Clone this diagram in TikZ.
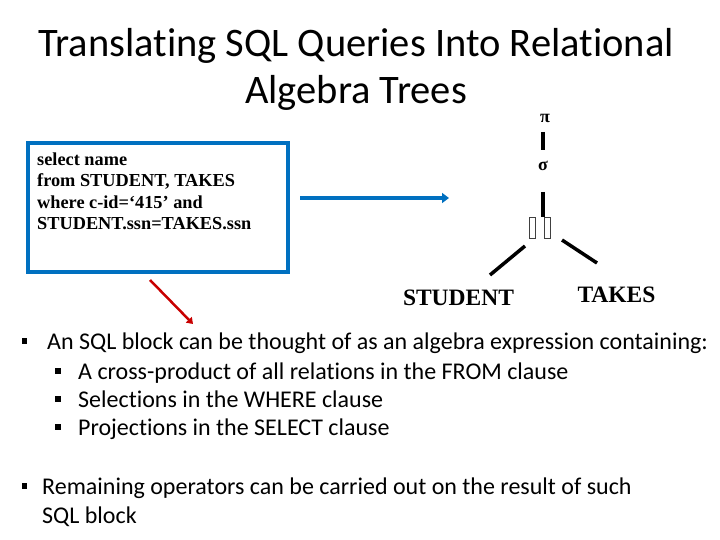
\documentclass[tikz,border=0pt]{standalone}
\usepackage{fontspec}
\setmainfont{Carlito}[Ligatures=NoCommon]
\newfontfamily\tnr{Liberation Serif}
\usetikzlibrary{arrows.meta}
\definecolor{boxblue}{RGB}{0,112,192}
\definecolor{arrred}{RGB}{200,0,0}
\tikzset{
  txt/.style={inner sep=0pt, anchor=base west, font=\fontsize{24}{29}\selectfont},
  bul/.style={fill=black, inner sep=0pt, minimum size=5.5pt, anchor=center},
  sqltxt/.style={inner sep=0pt, anchor=west, font=\tnr\bfseries\fontsize{18.3}{21}\selectfont},
  treeline/.style={line width=3.5pt},
  rel/.style={inner sep=0pt, font=\tnr\bfseries\fontsize{23.5}{26}\selectfont},
  op/.style={inner sep=0pt, font=\tnr\bfseries\fontsize{18}{20}\selectfont},
  emptybox/.style={draw=black!75, line width=0.9pt, fill=white, minimum width=6pt, minimum height=21pt, inner sep=0pt}
}
\begin{document}
\begin{tikzpicture}[x=1pt,y=-1pt]
\useasboundingbox (0,0) rectangle (720,540);
% title
\node[inner sep=0pt, align=center, font=\fontsize{40.5}{47}\selectfont] (title) at (356,69)
  {Translating SQL Queries Into Relational\\Algebra Trees};
% SQL box
\node[draw=boxblue, line width=3.5pt, minimum width=260pt, minimum height=129pt, inner sep=0pt] (box) at (158,207.5) {};
\node[sqltxt] (l1) at (37,159) {select name};
\node[sqltxt] (l2) at (37,181) {from STUDENT, TAKES};
\node[sqltxt] (l3) at (37,202) {where c-id=‘415’ and};
\node[sqltxt] (l4) at (37,224) {STUDENT.ssn=TAKES.ssn};
% arrows
\coordinate (bs) at (300,198);
\coordinate (be) at (449,198);
\draw[boxblue, line width=4pt, -{Triangle[length=7pt,width=10pt]}] (bs) -- (be);
\coordinate (rs) at (150,280);
\coordinate (re) at (193,324);
\draw[arrred, line width=2.5pt, -{Triangle[length=6pt,width=8pt]}] (rs) -- (re);
% tree
\node[op] (pi) at (545,118) {π};
\node[op] (sigma) at (543,166) {σ};
\node[emptybox] (x1) at (532,227.5) {};
\node[emptybox] (x2) at (547,227.5) {};
\coordinate (pib) at (543,132);
\coordinate (sgt) at (543,150);
\draw[treeline] (pib) -- (sgt);
\coordinate (sgb) at (543,192);
\coordinate (xt) at (543,217);
\draw[treeline] (sgb) -- (xt);
\node[rel] (stu) at (458.5,298) {STUDENT};
\node[rel] (tak) at (616.5,295) {TAKES};
\coordinate (ll1) at (525,246);
\coordinate (ll2) at (490,275);
\draw[treeline] (ll1) -- (ll2);
\coordinate (rl1) at (562,240);
\coordinate (rl2) at (597,263);
\draw[treeline] (rl1) -- (rl2);
% bullets
\node[bul] (b1) at (24.5,341) {};
\node[txt] (t1) at (47,349.5) {An SQL block can be thought of as an algebra expression containing:};
\node[bul] (b2) at (58,371) {};
\node[txt] (t2) at (78,379.5) {A cross-product of all relations in the FROM clause};
\node[bul] (b3) at (58,399) {};
\node[txt] (t3) at (78,407.5) {Selections in the WHERE clause};
\node[bul] (b4) at (58,427) {};
\node[txt] (t4) at (78,435.5) {Projections in the SELECT clause};
\node[bul] (b5) at (24.5,486) {};
\node[txt] (t5) at (42,494.5) {Remaining operators can be carried out on the result of such};
\node[txt] (t5b) at (42,523.5) {SQL block};
\end{tikzpicture}
\end{document}
